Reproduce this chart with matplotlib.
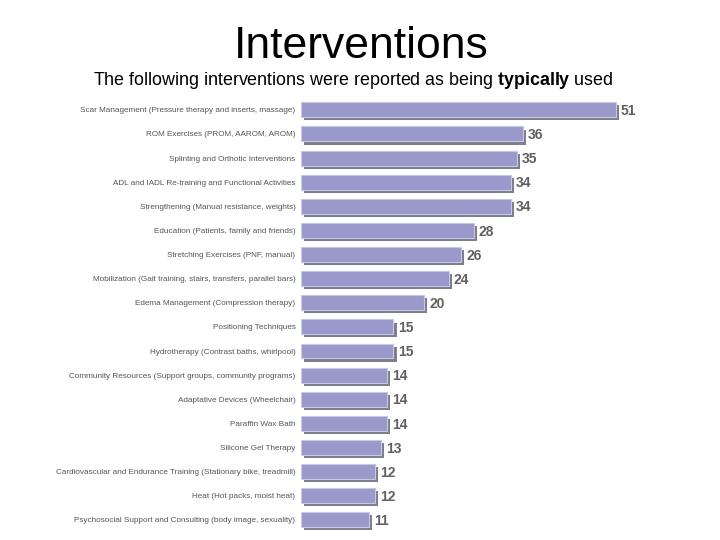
import matplotlib
matplotlib.use("Agg")
import matplotlib.pyplot as plt
import numpy as np

plt.rcParams['font.family'] = ['Liberation Sans', 'DejaVu Sans']
plt.rcParams['mathtext.fontset'] = 'custom'
plt.rcParams['mathtext.rm'] = 'Liberation Sans'
plt.rcParams['mathtext.bf'] = 'Liberation Sans:bold'

labels = [
    "Scar Management (Pressure therapy and inserts, massage)",
    "ROM Exercises (PROM, AAROM, AROM)",
    "Splinting and Orthotic Interventions",
    "ADL and IADL Re-training and Functional Activities",
    "Strengthening (Manual resistance, weights)",
    "Education (Patients, family and friends)",
    "Stretching Exercises (PNF, manual)",
    "Mobilization (Gait training, stairs, transfers, parallel bars)",
    "Edema Management (Compression therapy)",
    "Positioning Techniques",
    "Hydrotherapy (Contrast baths, whirlpool)",
    "Community Resources (Support groups, community programs)",
    "Adaptative Devices (Wheelchair)",
    "Paraffin Wax Bath",
    "Silicone Gel Therapy",
    "Cardiovascular and Endurance Training (Stationary bike, treadmill)",
    "Heat (Hot packs, moist heat)",
    "Psychosocial Support and Consulting (body image, sexuality)",
]
counts = [51, 36, 35, 34, 34, 28, 26, 24, 20, 15, 15, 14, 14, 14, 13, 12, 12, 11]

fig = plt.figure(figsize=(7.2, 5.4), dpi=100)
ax = fig.add_axes([0.418, 0.015, 0.514, 0.804])

y = np.arange(len(counts))
# shadow bars
ax.barh(y + 0.13, counts, left=0.5, height=0.62, color='#7d7d8c', zorder=1)
ax.barh(y, counts, height=0.62, color='#9999cc', edgecolor='#c8c8e0',
        linewidth=0.8, zorder=2)

for yi, c in zip(y, counts):
    ax.text(c + 0.8, yi + 0.05, str(c), va='center', ha='left', fontsize=10,
            fontweight='bold', color='#606060')

ax.set_yticks(y)
ax.set_yticklabels(labels, fontsize=5.85, color='#555555')
ax.tick_params(axis='y', length=0, pad=4)
ax.set_ylim(len(counts) - 0.5, -0.5)
ax.set_xlim(0, 60)
ax.set_xticks([])
for s in ax.spines.values():
    s.set_visible(False)

fig.text(0.502, 0.914, "Interventions", ha='center', va='center', fontsize=32)
fig.text(0.490, 0.851, r"The following interventions were reported as being $\mathbf{typically}$ used",
         ha='center', va='center', fontsize=12.9)

fig.savefig("out.png", dpi=100)
